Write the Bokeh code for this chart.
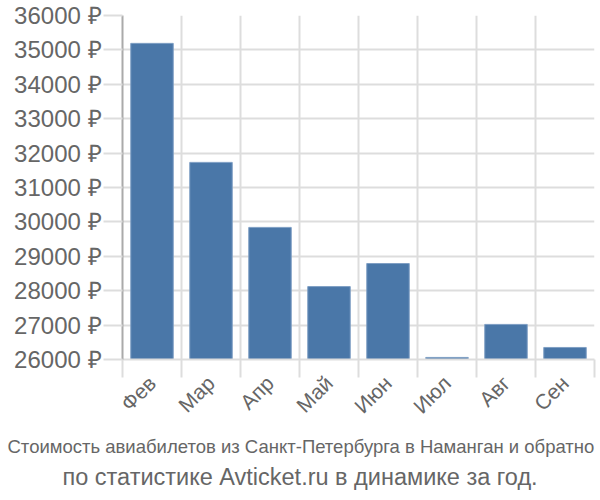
import math
from bokeh.plotting import figure
from bokeh.models import Range1d, FixedTicker, PrintfTickFormatter, Title, ColumnDataSource
from bokeh.embed import file_html
from bokeh.resources import INLINE

months = ["Фев", "Мар", "Апр", "Май", "Июн", "Июл", "Авг", "Сен"]
prices = [35190, 31730, 29840, 28120, 28790, 26060, 27020, 26350]
y_ticks = list(range(26000, 36001, 1000))
title_line1 = "Стоимость авиабилетов из Санкт-Петербурга в Наманган и обратно"
title_line2 = "по статистике Avticket.ru в динамике за год."

pos = [i + 0.5 for i in range(len(months))]
src = ColumnDataSource(dict(x=pos, top=prices, m=months))

p = figure(width=600, height=500, output_backend="svg", toolbar_location=None,
           x_range=Range1d(0, len(months)), y_range=Range1d(26000, 36000),
           min_border_left=122, min_border_right=6, min_border_top=15, min_border_bottom=141)
p.outline_line_color = None
p.background_fill_color = "white"

p.vbar(x="x", top="top", bottom=26000, width=0.72, source=src,
       fill_color="#4a77a8", line_color="#7f9fc4", line_width=1)

text_color = "#666666"
font = "Liberation Sans"

# x axis
xa = p.xaxis[0]
xa.ticker = FixedTicker(ticks=pos, minor_ticks=list(range(len(months) + 1)))
xa.major_label_overrides = {v: m for v, m in zip(pos, months)}
xa.major_label_orientation = math.pi / 4
xa.major_tick_out = 0
xa.major_tick_in = 0
xa.minor_tick_out = 18
xa.minor_tick_in = 0
xa.minor_tick_line_color = "#dddddd"
xa.minor_tick_line_width = 2
xa.axis_line_color = "#dddddd"
xa.axis_line_width = 2
xa.major_label_text_font = font
xa.major_label_text_font_size = "21px"
xa.major_label_text_color = text_color
xa.major_label_standoff = 2

# y axis
ya = p.yaxis[0]
ya.ticker = FixedTicker(ticks=y_ticks, minor_ticks=[])
ya.formatter = PrintfTickFormatter(format="%d ₽")
ya.major_tick_out = 19
ya.major_tick_in = 0
ya.major_tick_line_color = "#dddddd"
ya.major_tick_line_width = 2
ya.axis_line_color = "#aaaaaa"
ya.axis_line_width = 2
ya.major_label_text_font = font
ya.major_label_text_font_size = "24px"
ya.major_label_text_color = text_color
ya.major_label_standoff = 2

p.xgrid.grid_line_color = None
p.xgrid.minor_grid_line_color = "#dddddd"
p.xgrid.minor_grid_line_width = 2
p.ygrid.grid_line_color = "#dddddd"
p.ygrid.grid_line_width = 2

t1 = Title(text=title_line1, align="left", text_font=font, text_font_size="18.5px",
           text_font_style="normal", text_color=text_color, standoff=10, offset=-115)
t2 = Title(text=title_line2, align="left", text_font=font, text_font_size="23.5px",
           text_font_style="normal", text_color=text_color, standoff=0, offset=-60)
p.add_layout(t1, "below")
p.add_layout(t2, "below")

open("out.html", "w").write(file_html(p, INLINE))
